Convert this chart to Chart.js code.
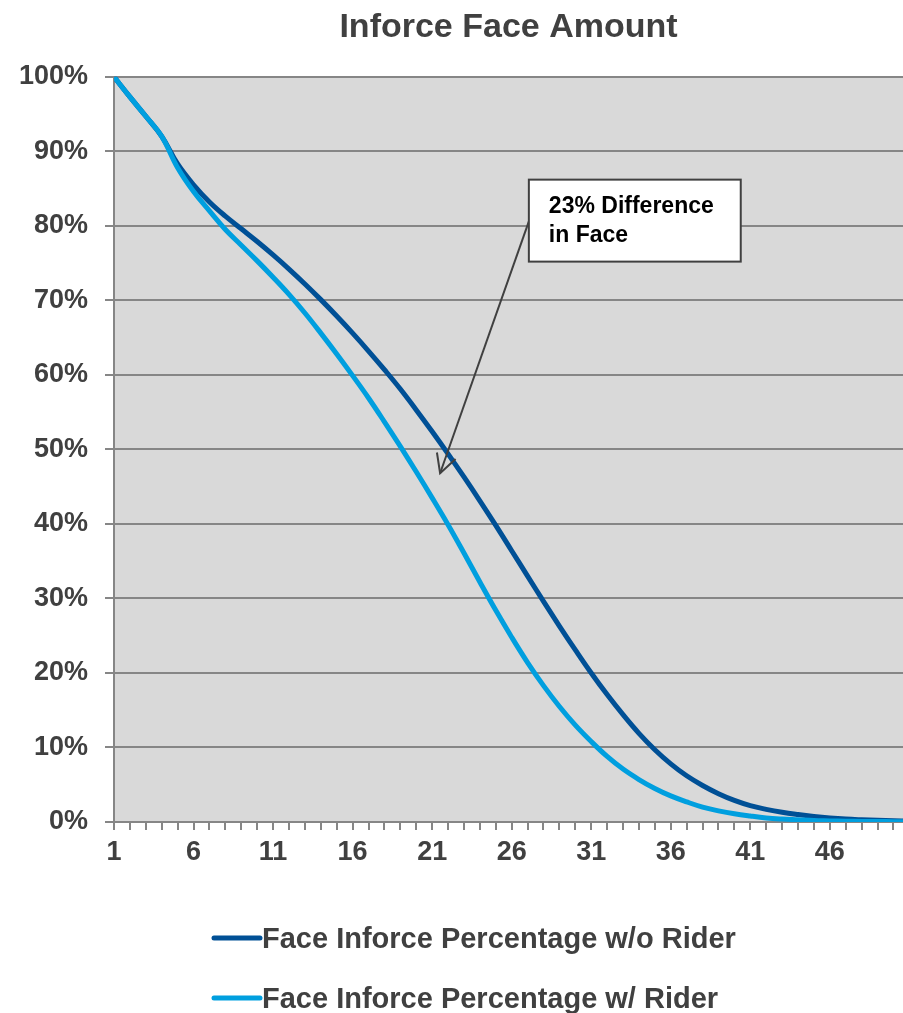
<!DOCTYPE html>
<html>
<head>
<meta charset="utf-8">
<script src="https://cdn.jsdelivr.net/npm/chart.js@4.4.1/dist/chart.umd.min.js"></script>
<style>
body{margin:0;background:#fff}
#wrap{width:903px;height:1013px}
</style>
</head>
<body>
<div id="wrap"><canvas id="myChart" width="903" height="1013"></canvas></div>
<script>
let years=[1,2,3,4,5,6,7,8,9,10,11,12,13,14,15,16,17,18,19,20,21,22,23,24,25,26,27,28,29,30,31,32,33,34,35,36,37,38,39,40,41,42,43,44,45,46,47,48,49,50,51]
let woRider=[100,97.3,94.7,92.0,88.3,85.5,83.2,81.3,79.6,77.9,76.1,74.2,72.2,70.1,67.9,65.6,63.2,60.7,58.1,55.3,52.4,49.4,46.3,43.1,39.8,36.4,33.0,29.6,26.3,23.1,20.0,17.1,14.4,11.9,9.7,7.8,6.2,4.9,3.8,2.9,2.2,1.7,1.3,1.0,0.75,0.55,0.4,0.3,0.22,0.16,0.12]
let wRider=[100,97.3,94.7,92.0,87.8,84.6,82.0,79.5,77.4,75.3,73.1,70.8,68.3,65.6,62.8,59.9,56.9,53.7,50.4,47.0,43.5,39.9,36.1,32.2,28.4,24.8,21.4,18.3,15.5,13.0,10.8,8.8,7.1,5.7,4.5,3.5,2.7,2.0,1.5,1.1,0.8,0.55,0.4,0.3,0.2,0.15,0.1,0.08,0.06,0.05,0.05]
let seriesNames=['Face Inforce Percentage w/o Rider','Face Inforce Percentage w/ Rider']
let seriesColors=['#005096','#009fdf']
let noteText=['23% Difference','in Face']
// note box corners and arrow in data units (year, percent)
let noteBox=[27.08,86.2,40.4,75.2]
let arrowFrom=[27.08,80.6]
let arrowTo=[21.5,46.8]

const gridGray='#868686'
const textGray='#404040'

function pts(vals){
    return years.map((y,i)=>({x:y,y:vals[i]}))
}

const extras={
    id:'extras',
    beforeDraw(chart){
        const a=chart.chartArea, c=chart.ctx
        c.save()
        c.fillStyle='#d9d9d9'
        c.fillRect(a.left,a.top,a.right-a.left,a.bottom-a.top)
        c.restore()
    },
    afterDraw(chart){
        const c=chart.ctx, xs=chart.scales.x, ys=chart.scales.y
        c.save()
        // arrow
        const x1=xs.getPixelForValue(arrowFrom[0]), y1=ys.getPixelForValue(arrowFrom[1])
        const x2=xs.getPixelForValue(arrowTo[0]), y2=ys.getPixelForValue(arrowTo[1])
        c.strokeStyle=textGray
        c.lineWidth=2
        c.beginPath(); c.moveTo(x1,y1); c.lineTo(x2,y2); c.stroke()
        const ang=Math.atan2(y1-y2,x1-x2), len=21, spread=0.49
        c.beginPath()
        c.moveTo(x2+len*Math.cos(ang-spread),y2+len*Math.sin(ang-spread))
        c.lineTo(x2,y2)
        c.lineTo(x2+len*Math.cos(ang+spread),y2+len*Math.sin(ang+spread))
        c.stroke()
        // note box
        const bx=xs.getPixelForValue(noteBox[0]), by=ys.getPixelForValue(noteBox[1])
        const bw=xs.getPixelForValue(noteBox[2])-bx, bh=ys.getPixelForValue(noteBox[3])-by
        c.fillStyle='#fff'
        c.fillRect(bx,by,bw,bh)
        c.strokeRect(bx,by,bw,bh)
        c.fillStyle='#000'
        c.font='bold 23px "Liberation Sans", Arial, sans-serif'
        c.textBaseline='alphabetic'
        c.textAlign='left'
        noteText.forEach((t,i)=>c.fillText(t,bx+20,by+33+i*29))
        // legend
        c.font='bold 29px "Liberation Sans", Arial, sans-serif'
        c.textBaseline='middle'
        seriesNames.forEach((n,i)=>{
            const ly=939+i*60, lx=212
            c.strokeStyle=seriesColors[i]
            c.lineWidth=5
            c.lineCap='round'
            c.beginPath(); c.moveTo(lx+2,ly-1); c.lineTo(lx+48,ly-1); c.stroke()
            c.fillStyle=textGray
            c.fillText(n,lx+50,ly+1)
        })
        c.restore()
    }
}

const ctx=document.getElementById('myChart')
new Chart(ctx,{
    type:'line',
    data:{
        datasets:[
            {label:seriesNames[0],data:pts(woRider),borderColor:seriesColors[0],backgroundColor:seriesColors[0],borderWidth:5,pointRadius:0,tension:0.4,order:1},
            {label:seriesNames[1],data:pts(wRider),borderColor:seriesColors[1],backgroundColor:seriesColors[1],borderWidth:5,pointRadius:0,tension:0.4,order:0}
        ]
    },
    options:{
        responsive:false,
        animation:false,
        layout:{padding:{top:0,left:0,right:0,bottom:130}},
        plugins:{
            legend:{display:false},
            tooltip:{enabled:false},
            title:{
                display:true,
                text:'Inforce Face Amount',
                fullSize:false,
                color:textGray,
                font:{family:'"Liberation Sans", Arial, sans-serif',size:34,weight:'bold'},
                padding:{top:7,bottom:29}
            }
        },
        scales:{
            x:{
                type:'linear',
                min:1,
                max:50.6,
                afterBuildTicks(scale){
                    scale.ticks=years.filter(v=>v<=50).map(v=>({value:v}))
                },
                afterFit(scale){scale.height=61},
                ticks:{
                    autoSkip:false,
                    maxRotation:0,
                    padding:6,
                    color:textGray,
                    font:{family:'"Liberation Sans", Arial, sans-serif',size:27,weight:'bold'},
                    callback:(v)=>((v-1)%5===0?String(v):'')
                },
                grid:{drawOnChartArea:false,color:gridGray,lineWidth:2,tickLength:8},
                border:{color:gridGray,width:2}
            },
            y:{
                min:0,
                max:100,
                afterFit(scale){scale.width=114},
                ticks:{
                    stepSize:10,
                    padding:17,
                    color:textGray,
                    font:{family:'"Liberation Sans", Arial, sans-serif',size:27,weight:'bold'},
                    callback:(v)=>v+'%'
                },
                grid:{color:gridGray,lineWidth:2,tickLength:9},
                border:{color:gridGray,width:2}
            }
        }
    },
    plugins:[extras]
})
</script>
</body>
</html>
